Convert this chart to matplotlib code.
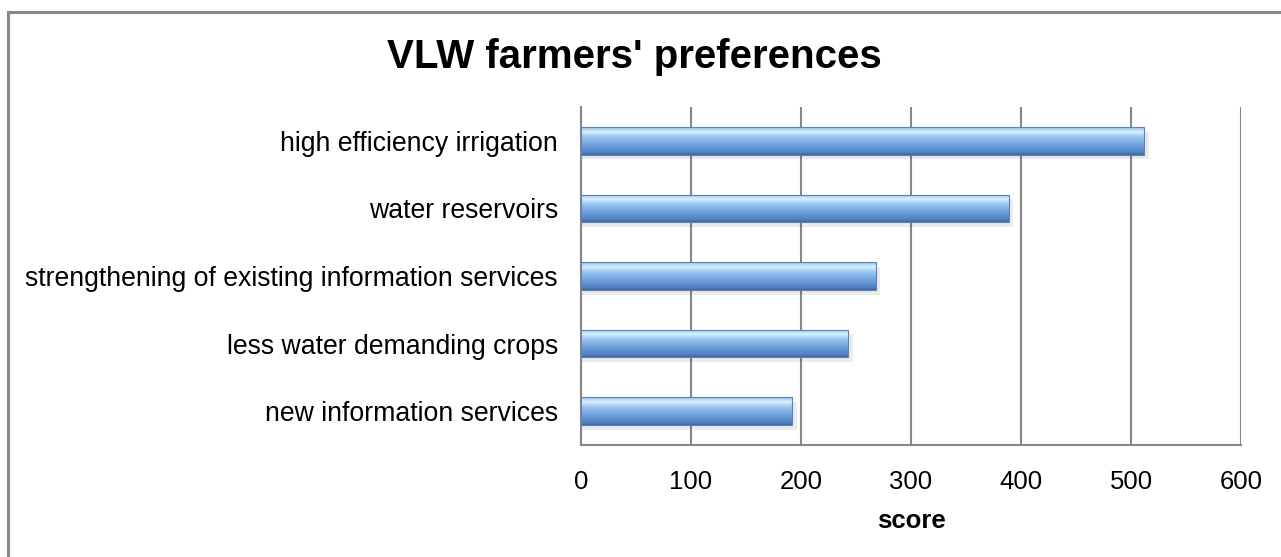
import matplotlib.pyplot as plt
import numpy as np
from matplotlib.colors import LinearSegmentedColormap
from matplotlib.patches import Rectangle

plt.rcParams['font.family'] = ['Liberation Sans', 'DejaVu Sans']

# data
categories = ['high efficiency irrigation', 'water reservoirs',
              'strengthening of existing information services',
              'less water demanding crops', 'new information services']
scores = [512, 389, 268, 243, 192]

fig = plt.figure(figsize=(12.81, 5.57), dpi=100)
ax = fig.add_axes([581 / 1281, 1 - 445 / 557, 660 / 1281, 338 / 557])

# outer chart frame
fig.patches.append(Rectangle((8 / 1281, -0.01), 1.2, 1 - 12 / 557 + 0.01,
                             transform=fig.transFigure, fill=False,
                             edgecolor='#888888', lw=2.2, zorder=0))

bar_h = 0.41
ypos = np.arange(len(categories))[::-1]

# bevelled gradient look
cmap = LinearSegmentedColormap.from_list('bev', [
    (0.0, '#3d6699'), (0.08, '#4f7fc0'), (0.35, '#6f9fdc'),
    (0.65, '#9cc6f0'), (0.82, '#d6f1ff'), (0.92, '#b5d8f6'), (1.0, '#8fb6e6')])
grad = np.linspace(0, 1, 256).reshape(-1, 1)

for y, v in zip(ypos, scores):
    # shadow
    ax.add_patch(Rectangle((0, y - bar_h / 2 - 0.07), v + 4, bar_h,
                           facecolor='#000000', alpha=0.08, lw=0, zorder=2))
    im = ax.imshow(grad, cmap=cmap, aspect='auto', origin='lower',
                   extent=[0, v, y - bar_h / 2, y + bar_h / 2], zorder=3)
    r = Rectangle((0, y - bar_h / 2), v, bar_h, facecolor='none',
                  edgecolor='#5a82b8', lw=0.8, zorder=4)
    ax.add_patch(r)
    im.set_clip_path(r)

ax.set_xlim(0, 600)
ax.set_ylim(-0.5, len(categories) - 0.5)
ax.set_xticks(range(0, 601, 100))
ax.set_yticks(ypos)
ax.set_yticklabels(categories)
ax.xaxis.grid(True, color='#868686', lw=1.5)
ax.set_axisbelow(True)
for s in ['top', 'right']:
    ax.spines[s].set_visible(False)
for s in ['left', 'bottom']:
    ax.spines[s].set_color('#868686')
    ax.spines[s].set_linewidth(1.5)
ax.tick_params(axis='both', length=0, labelsize=18.5)
ax.tick_params(axis='y', pad=16.5, labelsize=19.2)
ax.tick_params(axis='x', pad=18)
ax.set_xlabel('score', fontsize=18.5, fontweight='bold', labelpad=11)

fig.text(634 / 1281, 1 - 57 / 557, "VLW farmers' preferences", ha='center',
         va='center', fontsize=29, fontweight='bold')

fig.savefig('out.png', dpi=100)
